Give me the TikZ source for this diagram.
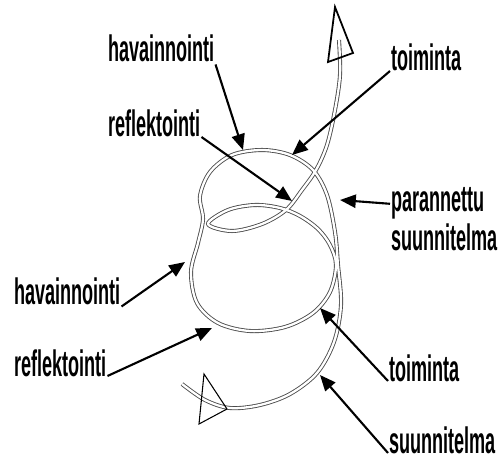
\documentclass[tikz,border=0pt]{standalone}
\usepackage{fontspec}
\setmainfont{Liberation Sans}
\usepackage{tikz}
\usetikzlibrary{arrows.meta}

\begin{document}
\begin{tikzpicture}[x=0.02cm,y=-0.02cm,
  lblText/.style={font=\bfseries\fontsize{21}{26}\selectfont,xscale=0.49,inner sep=1pt,anchor=base west},
  ptrArrow/.style={-{Triangle[length=9pt,width=7.5pt]},line width=1.2pt},
  spiralLine/.style={draw=black!70,line width=0.5pt,double=white,double distance=1.3pt,line join=round},
  hollowHead/.style={draw=black,line join=miter}]
  \useasboundingbox(0,0)rectangle(500,459);
  \draw[spiralLine]plot[smooth,tension=0.55]coordinates{
    (182,384)(205,400)(230,408)(260,405)(290,394)(317,373)(334,342)(341,305)
    (338,265)(335,232)(327,195)(313,170)(290,155)(262,150)(232,155)(210,172)
    (200,196)(203,219)(198,243)(191,272)(197,303)(218,323)(250,331)(285,327)
    (313,313)(330,292)(336,265)(330,245)(318,229)(300,216)(280,208)(255,205)
    (228,210)(208,224)(232,231)(262,224)(286,210)(302,190)(316,170)(327,145)
    (335,110)(340,75)(339,40)};
  \draw[hollowHead,line width=1pt](335,7)--(353,53)--(328,62)--cycle;
  \draw[hollowHead,line width=0.6pt](204,374)--(227,409)--(199,424)--cycle;
  \coordinate(tHav1)at(243,150);
  \coordinate(tRef1)at(292,201);
  \coordinate(tToi1)at(292,155);
  \coordinate(tPar)at(340,200);
  \coordinate(tHav2)at(185,262);
  \coordinate(tRef2)at(212,328);
  \coordinate(tToi2)at(320,308);
  \coordinate(tSuu2)at(320,375);
  \node[lblText](hav1)at(107,62){havainnointi};
  \node[lblText](ref1)at(107,137){reflektointi};
  \node[lblText](toi1)at(390,71){toiminta};
  \node[lblText](par)at(390,212){parannettu};
  \node[lblText](suu1)at(390,250){suunnitelma};
  \node[lblText](hav2)at(13,304){havainnointi};
  \node[lblText](ref2)at(13,376){reflektointi};
  \node[lblText](toi2)at(388,381){toiminta};
  \node[lblText](suu2)at(388,453){suunnitelma};
  \draw[ptrArrow](hav1.south east)--(tHav1);
  \draw[ptrArrow](ref1.base east)--(tRef1);
  \draw[ptrArrow](toi1.base west)--(tToi1);
  \draw[ptrArrow](par.west)--(tPar);
  \draw[ptrArrow](hav2.south east)--(tHav2);
  \draw[ptrArrow](ref2.base east)--(tRef2);
  \draw[ptrArrow](toi2.base west)--(tToi2);
  \draw[ptrArrow](suu2.base west)--(tSuu2);
\end{tikzpicture}
\end{document}
